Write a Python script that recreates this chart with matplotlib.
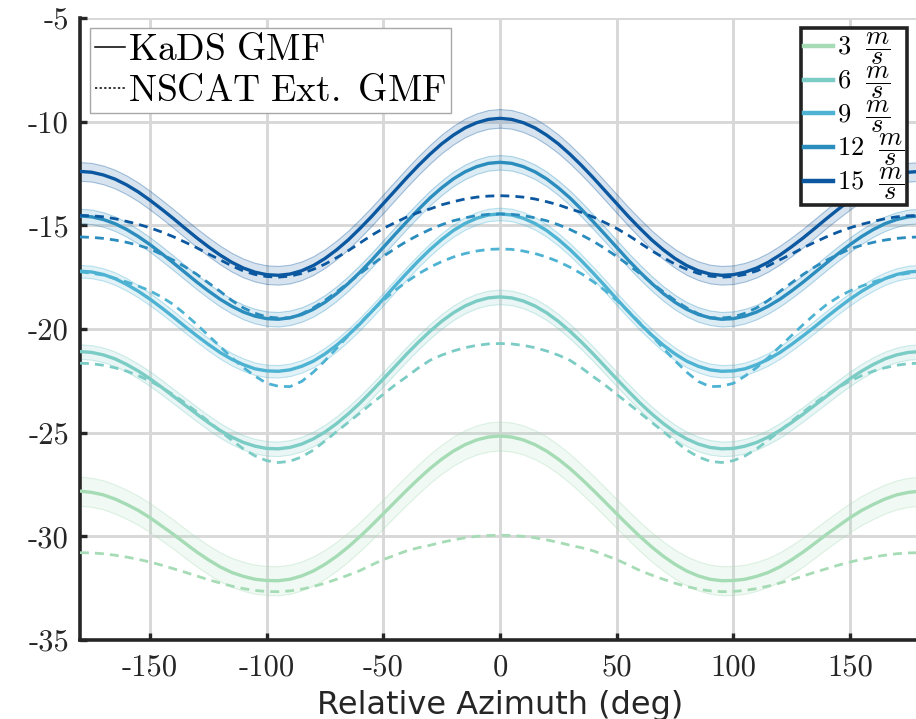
import matplotlib
matplotlib.use("Agg")
import matplotlib.pyplot as plt
from matplotlib.colors import to_rgba
from matplotlib.lines import Line2D
import numpy as np

plt.rcParams['mathtext.fontset'] = 'cm'
plt.rcParams['axes.unicode_minus'] = False

# Relative azimuth (deg)
azimuth = list(range(-180, 181, 5))

# Wind speeds (m/s)
speeds = [3, 6, 9, 12, 15]

# KaDS GMF (solid lines), NRCS in dB
kads_3 = [-27.82, -27.88, -28.00, -28.20, -28.46, -28.75, -29.10, -29.50, -29.90, -30.33, -30.75, -31.13, -31.47, -31.74,
          -31.93, -32.07, -32.13, -32.14, -32.07, -31.91, -31.67, -31.35, -30.96, -30.51, -30.01, -29.47, -28.91, -28.34,
          -27.78, -27.24, -26.73, -26.28, -25.89, -25.58, -25.35, -25.21, -25.16, -25.21, -25.35, -25.58, -25.89, -26.28,
          -26.73, -27.24, -27.78, -28.34, -28.91, -29.47, -30.01, -30.51, -30.96, -31.35, -31.67, -31.91, -32.07, -32.14,
          -32.13, -32.07, -31.93, -31.74, -31.47, -31.13, -30.75, -30.33, -29.90, -29.50, -29.10, -28.75, -28.46, -28.20,
          -28.00, -27.88, -27.82]
kads_6 = [-21.09, -21.13, -21.25, -21.44, -21.71, -22.03, -22.40, -22.81, -23.24, -23.67, -24.10, -24.51, -24.89, -25.21,
          -25.47, -25.65, -25.76, -25.78, -25.71, -25.55, -25.30, -24.97, -24.56, -24.09, -23.57, -23.00, -22.41, -21.81,
          -21.21, -20.64, -20.11, -19.63, -19.22, -18.89, -18.65, -18.50, -18.45, -18.50, -18.65, -18.89, -19.22, -19.63,
          -20.11, -20.64, -21.21, -21.81, -22.41, -23.00, -23.57, -24.09, -24.56, -24.97, -25.30, -25.55, -25.71, -25.78,
          -25.76, -25.65, -25.47, -25.21, -24.89, -24.51, -24.10, -23.67, -23.24, -22.81, -22.40, -22.03, -21.71, -21.44,
          -21.25, -21.13, -21.09]
kads_9 = [-17.21, -17.25, -17.37, -17.57, -17.85, -18.18, -18.56, -18.98, -19.42, -19.88, -20.32, -20.74, -21.13, -21.46,
          -21.72, -21.92, -22.02, -22.04, -21.97, -21.80, -21.55, -21.20, -20.78, -20.29, -19.75, -19.16, -18.55, -17.92,
          -17.31, -16.72, -16.17, -15.68, -15.25, -14.91, -14.66, -14.50, -14.45, -14.50, -14.66, -14.91, -15.25, -15.68,
          -16.17, -16.72, -17.31, -17.92, -18.55, -19.16, -19.75, -20.29, -20.78, -21.20, -21.55, -21.80, -21.97, -22.04,
          -22.02, -21.92, -21.72, -21.46, -21.13, -20.74, -20.32, -19.88, -19.42, -18.98, -18.56, -18.18, -17.85, -17.57,
          -17.37, -17.25, -17.21]
kads_12 = [-14.55, -14.59, -14.72, -14.92, -15.20, -15.54, -15.93, -16.36, -16.81, -17.27, -17.73, -18.16, -18.56, -18.90,
           -19.18, -19.38, -19.50, -19.53, -19.46, -19.30, -19.05, -18.71, -18.29, -17.80, -17.26, -16.68, -16.06, -15.44,
           -14.83, -14.24, -13.68, -13.19, -12.76, -12.42, -12.17, -12.01, -11.96, -12.01, -12.17, -12.42, -12.76, -13.19,
           -13.68, -14.24, -14.83, -15.44, -16.06, -16.68, -17.26, -17.80, -18.29, -18.71, -19.05, -19.30, -19.46, -19.53,
           -19.50, -19.38, -19.18, -18.90, -18.56, -18.16, -17.73, -17.27, -16.81, -16.36, -15.93, -15.54, -15.20, -14.92,
           -14.72, -14.59, -14.55]
kads_15 = [-12.40, -12.44, -12.57, -12.77, -13.05, -13.39, -13.79, -14.22, -14.67, -15.14, -15.60, -16.03, -16.43, -16.78,
           -17.06, -17.26, -17.38, -17.41, -17.35, -17.19, -16.94, -16.60, -16.18, -15.70, -15.15, -14.57, -13.95, -13.33,
           -12.71, -12.12, -11.57, -11.07, -10.65, -10.30, -10.05, -9.89, -9.84, -9.89, -10.05, -10.30, -10.65, -11.07,
           -11.57, -12.12, -12.71, -13.33, -13.95, -14.57, -15.15, -15.70, -16.18, -16.60, -16.94, -17.19, -17.35, -17.41,
           -17.38, -17.26, -17.06, -16.78, -16.43, -16.03, -15.60, -15.14, -14.67, -14.22, -13.79, -13.39, -13.05, -12.77,
           -12.57, -12.44, -12.40]

# Half width of the shaded band around the KaDS curves (dB)
kads_spread = [0.70, 0.35, 0.30, 0.35, 0.45]

# NSCAT extended GMF (dashed lines), NRCS in dB
nscat_3 = [-30.79, -30.80, -30.84, -30.91, -31.00, -31.11, -31.24, -31.39, -31.56, -31.73, -31.91, -32.09, -32.25, -32.40,
           -32.52, -32.61, -32.66, -32.67, -32.63, -32.55, -32.42, -32.26, -32.07, -31.87, -31.65, -31.38, -31.12, -30.91,
           -30.70, -30.55, -30.43, -30.29, -30.17, -30.07, -30.00, -29.96, -29.95, -29.96, -30.00, -30.07, -30.17, -30.29,
           -30.43, -30.55, -30.70, -30.91, -31.12, -31.38, -31.65, -31.87, -32.07, -32.26, -32.42, -32.55, -32.63, -32.67,
           -32.66, -32.61, -32.52, -32.40, -32.25, -32.09, -31.91, -31.73, -31.56, -31.39, -31.24, -31.11, -31.00, -30.91,
           -30.84, -30.80, -30.79]
nscat_6 = [-21.65, -21.67, -21.75, -21.87, -22.03, -22.25, -22.51, -22.82, -23.17, -23.57, -24.00, -24.45, -24.91, -25.36,
           -25.78, -26.12, -26.35, -26.44, -26.38, -26.17, -25.84, -25.40, -24.95, -24.50, -24.05, -23.59, -23.15, -22.70,
           -22.30, -21.88, -21.51, -21.26, -21.06, -20.90, -20.79, -20.72, -20.70, -20.72, -20.79, -20.90, -21.06, -21.26,
           -21.51, -21.88, -22.30, -22.70, -23.15, -23.59, -24.05, -24.50, -24.95, -25.40, -25.84, -26.17, -26.38, -26.44,
           -26.35, -26.12, -25.78, -25.36, -24.91, -24.45, -24.00, -23.57, -23.17, -22.82, -22.51, -22.25, -22.03, -21.87,
           -21.75, -21.67, -21.65]
nscat_9 = [-17.24, -17.31, -17.40, -17.56, -17.73, -17.93, -18.16, -18.46, -18.82, -19.28, -19.78, -20.31, -20.84, -21.38,
           -21.86, -22.27, -22.62, -22.76, -22.78, -22.53, -22.08, -21.53, -20.93, -20.32, -19.71, -19.15, -18.62, -18.14,
           -17.72, -17.34, -17.02, -16.75, -16.53, -16.36, -16.24, -16.16, -16.14, -16.16, -16.24, -16.36, -16.53, -16.75,
           -17.02, -17.34, -17.72, -18.14, -18.62, -19.15, -19.71, -20.32, -20.93, -21.53, -22.08, -22.53, -22.78, -22.76,
           -22.62, -22.27, -21.86, -21.38, -20.84, -20.31, -19.78, -19.28, -18.82, -18.46, -18.16, -17.93, -17.73, -17.56,
           -17.40, -17.31, -17.24]
nscat_12 = [-15.56, -15.58, -15.63, -15.71, -15.82, -15.96, -16.14, -16.40, -16.68, -17.00, -17.36, -17.77, -18.18, -18.62,
            -18.98, -19.24, -19.42, -19.47, -19.46, -19.27, -18.98, -18.62, -18.21, -17.77, -17.33, -16.90, -16.50, -16.12,
            -15.77, -15.47, -15.20, -14.97, -14.78, -14.64, -14.53, -14.47, -14.45, -14.47, -14.53, -14.64, -14.78, -14.97,
            -15.20, -15.47, -15.77, -16.12, -16.50, -16.90, -17.33, -17.77, -18.21, -18.62, -18.98, -19.27, -19.46, -19.47,
            -19.42, -19.24, -18.98, -18.62, -18.18, -17.77, -17.36, -17.00, -16.68, -16.40, -16.14, -15.96, -15.82, -15.71,
            -15.63, -15.58, -15.56]
nscat_15 = [-14.52, -14.54, -14.59, -14.68, -14.81, -14.95, -15.12, -15.32, -15.55, -15.81, -16.08, -16.38, -16.66, -16.95,
            -17.20, -17.37, -17.47, -17.50, -17.45, -17.32, -17.12, -16.87, -16.56, -16.22, -15.85, -15.48, -15.15, -14.87,
            -14.60, -14.38, -14.21, -14.01, -13.86, -13.73, -13.64, -13.59, -13.57, -13.59, -13.64, -13.73, -13.86, -14.01,
            -14.21, -14.38, -14.60, -14.87, -15.15, -15.48, -15.85, -16.22, -16.56, -16.87, -17.12, -17.32, -17.45, -17.50,
            -17.47, -17.37, -17.20, -16.95, -16.66, -16.38, -16.08, -15.81, -15.55, -15.32, -15.12, -14.95, -14.81, -14.68,
            -14.59, -14.54, -14.52]

x_ticks = [-150, -100, -50, 0, 50, 100, 150]
y_ticks = [-35, -30, -25, -20, -15, -10, -5]

speed_colors = ['#a6dcb5', '#7bccc4', '#4eb3d3', '#2b8cbe', '#0b58a0']
text_color = '#262626'


def plot_gmf():
    kads = [kads_3, kads_6, kads_9, kads_12, kads_15]
    nscat = [nscat_3, nscat_6, nscat_9, nscat_12, nscat_15]

    fig = plt.figure(figsize=(9.16, 7.19), dpi=100)
    # axes runs a few pixels past the right edge, like the cropped original
    ax = fig.add_axes([80 / 916, 1 - 640 / 719, 840 / 916, 622 / 719])

    az = np.array(azimuth)
    speed_handles = []
    for i, speed in enumerate(speeds):
        c = speed_colors[i]
        y = np.array(kads[i])
        s = kads_spread[i]
        ax.fill_between(az, y - s, y + s, facecolor=to_rgba(c, 0.16), edgecolor=to_rgba(c, 0.35),
                        linewidth=0.8, zorder=2)
        ax.plot(az, y, color=c, linewidth=2.4, solid_joinstyle='round', zorder=3)
        speed_handles.append(Line2D([0], [0], color=c, linewidth=3.2))

    for i, speed in enumerate(speeds):
        ax.plot(az, nscat[i], color=speed_colors[i], linewidth=2.0, linestyle=(0, (3.2, 2.2)), zorder=4)

    ax.set_xlim(-180, 180)
    ax.set_ylim(-35, -5)
    ax.set_xticks(x_ticks)
    ax.set_yticks(y_ticks)
    ax.set_xticklabels([str(t) for t in x_ticks], fontfamily='cmr10', fontsize=22, color=text_color)
    ax.set_yticklabels([str(t) for t in y_ticks], fontfamily='cmr10', fontsize=22, color=text_color)
    ax.tick_params(direction='in', length=5, width=2.4, color=text_color)
    ax.tick_params(axis='x', pad=10)
    ax.tick_params(axis='y', pad=8)

    ax.grid(True, color='#d8d8d8', linewidth=2.1)
    ax.set_axisbelow(True)
    for side in ['top', 'right']:
        ax.spines[side].set_visible(False)
    for side in ['left', 'bottom']:
        ax.spines[side].set_linewidth(2.6)
        ax.spines[side].set_color(text_color)

    ax.set_xlabel('Relative Azimuth (deg)', fontfamily='DejaVu Sans', fontsize=23, color=text_color, labelpad=6)

    # Line style legend
    style_handles = [Line2D([0], [0], color='k', linewidth=1.1),
                     Line2D([0], [0], color='k', linewidth=1.1, linestyle=(0, (1.5, 1.5)))]
    leg1 = ax.legend(style_handles, [r'$\mathrm{KaDS\ GMF}$', r'$\mathrm{NSCAT\ Ext.\ GMF}$'],
                     loc='upper left', bbox_to_anchor=(0.012, 0.984), borderaxespad=0, fontsize=27,
                     handlelength=0.8, handletextpad=0.1, labelspacing=0.12, borderpad=0.12,
                     fancybox=False, framealpha=1, edgecolor='#a8a8a8')
    leg1.get_frame().set_linewidth(1.0)
    ax.add_artist(leg1)

    # Wind speed legend
    leg2 = ax.legend(speed_handles, [r'$%d\ \ \dfrac{m}{s}$' % s for s in speeds],
                     loc='upper left', bbox_to_anchor=(0.858, 0.984), borderaxespad=0, fontsize=19,
                     handlelength=1.1, handletextpad=0.15, labelspacing=-0.1, borderpad=0.12,
                     fancybox=False, framealpha=1, edgecolor='#222222')
    leg2.get_frame().set_linewidth(2.6)

    fig.savefig('out.png', dpi=100, facecolor='white')


if __name__ == '__main__':
    plot_gmf()
